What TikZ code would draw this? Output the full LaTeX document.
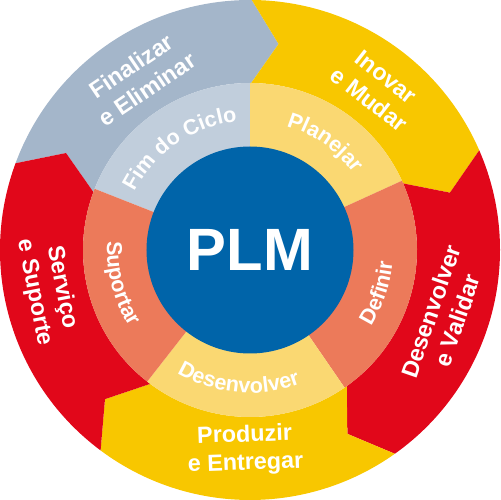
\documentclass[tikz,border=0pt]{standalone}
\usepackage{fontspec}
\setmainfont{Liberation Sans}
\usetikzlibrary{decorations.text}

\definecolor{grayout}{HTML}{A4B6CA}
\definecolor{grayin}{HTML}{C1CEDC}
\definecolor{yellowout}{HTML}{F8C700}
\definecolor{yellowin}{HTML}{FAD872}
\definecolor{redout}{HTML}{E1071A}
\definecolor{redin}{HTML}{EC7A5A}
\definecolor{plmblue}{HTML}{0064A9}

\begin{document}
\begin{tikzpicture}[x=0.02cm, y=0.02cm,
  outerlabel/.style={text=white, font=\bfseries\fontsize{13.3}{16}\selectfont, align=center, inner sep=0pt},
  innertext/.style={decorate, decoration={text along path, text align=center, text color=white,
    text={|\bfseries\fontsize{12.3}{14}\selectfont|#1}}}]
\useasboundingbox (-250,-250) rectangle (250,250);
% outer ring: arrows running clockwise
\fill[grayout] (159.7:250) arc[start angle=159.7, end angle=89.6, radius=250] -- (82.1:208) -- (89.6:167) arc[start angle=89.6, end angle=159.7, radius=167] -- (152.2:208) -- cycle;
\fill[yellowout] (89.6:250) arc[start angle=89.6, end angle=23.5, radius=250] -- (16:208) -- (23.5:167) arc[start angle=23.5, end angle=89.6, radius=167] -- (82.1:208) -- cycle;
\fill[redout] (23.5:250) arc[start angle=23.5, end angle=-54.6, radius=250] -- (-62.1:208) -- (-54.6:167) arc[start angle=-54.6, end angle=23.5, radius=167] -- (16:208) -- cycle;
\fill[yellowout] (-54.6:250) arc[start angle=-54.6, end angle=-126.7, radius=250] -- (-134.2:208) -- (-126.7:167) arc[start angle=-126.7, end angle=-54.6, radius=167] -- (-62.1:208) -- cycle;
\fill[redout] (-126.7:250) arc[start angle=-126.7, end angle=-200.3, radius=250] -- (-207.8:208) -- (-200.3:167) arc[start angle=-200.3, end angle=-126.7, radius=167] -- (-134.2:208) -- cycle;
% middle ring
\fill[grayin] (0,0) -- (158.5:167) arc[start angle=158.5, end angle=90, radius=167] -- cycle;
\fill[yellowin] (0,0) -- (90:167) arc[start angle=90, end angle=24.5, radius=167] -- cycle;
\fill[redin] (0,0) -- (24.5:167) arc[start angle=24.5, end angle=-55.5, radius=167] -- cycle;
\fill[yellowin] (0,0) -- (-55.5:167) arc[start angle=-55.5, end angle=-128, radius=167] -- cycle;
\fill[redin] (0,0) -- (-128:167) arc[start angle=-128, end angle=-201.5, radius=167] -- cycle;
% centre
\node[circle, fill=plmblue, minimum size=207*0.02cm, inner sep=0pt, text=white, font=\bfseries\fontsize{34}{34}\selectfont] (plm) at (0,0) {PLM};
% middle ring labels
\path[innertext={Fim do Ciclo}] (159:129) arc[start angle=159, end angle=90, radius=129];
\path[innertext={Planejar}] (90:129) arc[start angle=90, end angle=20, radius=129];
\path[innertext={Definir}] (-52:143) arc[start angle=-52, end angle=15, radius=143];
\path[innertext={Desenvolver}] (-130:143) arc[start angle=-130, end angle=-60, radius=143];
\path[innertext={Suportar}] (157:143) arc[start angle=157, end angle=232, radius=143];
% outer ring labels
\node[outerlabel, rotate=34] (fin) at (122.7:205) {Finalizar\\e Eliminar};
\node[outerlabel, rotate=-38] (ino) at (51.7:206) {Inovar\\e Mudar};
\node[outerlabel, rotate=71] (dev) at (-18.8:205) {Desenvolver\\e Validar};
\node[outerlabel, rotate=2] (pro) at (-91.4:200) {Produzir\\e Entregar};
\node[outerlabel, rotate=-79] (ser) at (191.2:206) {Serviço\\e Suporte};
\end{tikzpicture}
\end{document}
